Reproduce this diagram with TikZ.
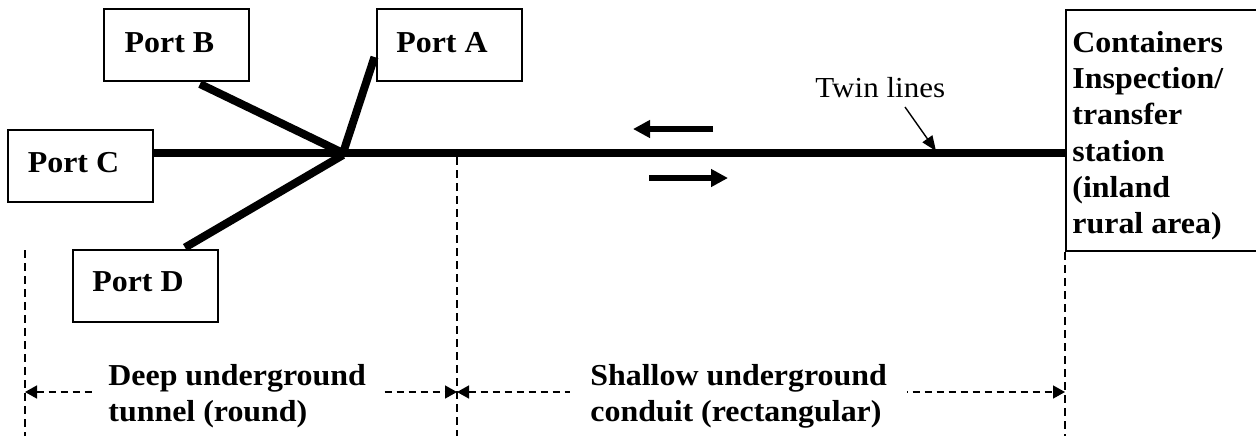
\documentclass[tikz,border=0pt]{standalone}
\usepackage{fontspec}
\setmainfont{Liberation Serif}
\newfontfamily\widef[FakeStretch=1.05]{Liberation Serif}
\newfontfamily\widereg[FakeStretch=1.07]{Liberation Serif}
\usetikzlibrary{arrows.meta,calc}
\begin{document}
\begin{tikzpicture}[x=0.5pt,y=-0.5pt,
  portbox/.style={draw,line width=1pt,minimum width=72.5pt,minimum height=36pt,inner sep=0pt},
  portlabel/.style={anchor=base,inner sep=0pt,font=\fontsize{15.2}{18}\widef\bfseries},
  rail/.style={line width=4pt},
  vguide/.style={line width=0.75pt,dash pattern=on 4pt off 2.5pt},
  dim/.style={line width=0.75pt,dash pattern=on 3.5pt off 2.5pt,
    arrows={Triangle[length=6pt,width=6.5pt]-Triangle[length=6pt,width=6.5pt]}},
  dimlabel/.style={fill=white,align=left,anchor=north west,inner ysep=0pt,
    font=\fontsize{15.2}{18}\widef\bfseries},
  flow/.style={line width=3pt,-{Triangle[length=8.5pt,width=8.5pt]}}]
\clip (0,0) rectangle (1256,436);
\fill[white] (0,0) rectangle (1256,436);
% port boxes
\node[portbox] (pB) at (176.5,45) {};
\node[portbox] (pA) at (449,45) {};
\node[portbox] (pC) at (80.5,165.5) {};
\node[portbox] (pD) at (145,285.5) {};
\node[portlabel] (lB) at ($(pB.center)+(-7,7)$) {Port B};
\node[portlabel] (lA) at ($(pA.center)+(-7,7)$) {Port A};
\node[portlabel] (lC) at ($(pC.center)+(-7,6.5)$) {Port C};
\node[portlabel] (lD) at ($(pD.center)+(-7,5.5)$) {Port D};
% station box
\node[draw,line width=1pt,anchor=north west,minimum width=150pt,minimum height=120.5pt,inner sep=0pt] (st) at (1065,9) {};
\node[anchor=north west,inner sep=0pt,align=left,font=\fontsize{15.2}{18.1}\widef\bfseries] (sttext) at (1072,31)
  {Containers\\Inspection/\\transfer\\station\\(inland\\rural area)};
% junction and rails
\coordinate (j) at (343,153);
\draw[rail] (j -| pC.east) -- (j -| st.west);
\draw[rail] (j) -- ($(pB.south)+(23.5,2)$);
\draw[rail] (j) -- ($(pA.west)+(-1,12)$);
\draw[rail] ($(j)+(0,2)$) -- ($(pD.north)+(40,-1)$);
% flow arrows
\coordinate (la1) at (713,129); \coordinate (la2) at (633,129);
\coordinate (ra1) at (649,178); \coordinate (ra2) at (728,178);
\draw[flow] (la1) -- (la2);
\draw[flow] (ra1) -- (ra2);
% twin lines label
\node[anchor=base west,inner sep=0pt,font=\fontsize{14.5}{16}\widereg] (tw) at (815,97) {Twin lines};
\coordinate (twtail) at (905,107);
\coordinate (twtip) at (936,151);
\draw[line width=0.7pt,-{Triangle[length=7.5pt,width=6pt]}] (twtail) -- (twtip);
% guide lines
\coordinate (g1t) at (25,250); \coordinate (g1b) at (25,436);
\coordinate (g2t) at (457,157); \coordinate (g2b) at (457,436);
\draw[vguide] (g1t) -- (g1b);
\draw[vguide] (g2t) -- (g2b);
\draw[vguide] (st.south west) -- (st.south west |- g2b);
% dimension lines
\coordinate (d1) at (25,392); \coordinate (d2) at (457,392); \coordinate (d3) at (1065,392);
\draw[dim] (d1) -- (d2);
\draw[dim] (d2) -- (d3);
\node[dimlabel,inner xsep=8pt] (deep) at (92,364) {Deep underground\\tunnel (round)};
\node[dimlabel,inner xsep=10pt] (shallow) at (570,364) {Shallow underground\\conduit (rectangular)};
\end{tikzpicture}
\end{document}
